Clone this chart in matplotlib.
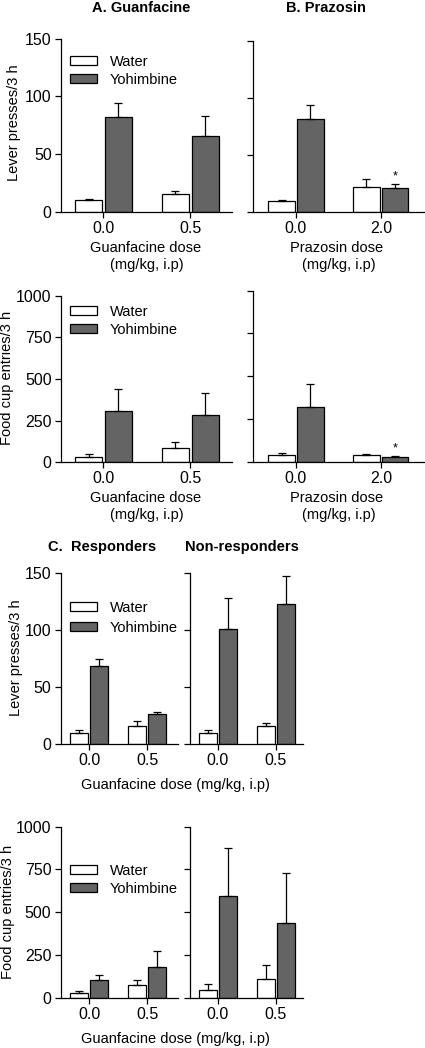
"""Yohimbine-induced reinstatement: guanfacine / prazosin bar panels.

Lever presses and food cup entries (mean + SEM) for water vs yohimbine
at each antagonist dose, plus responder / non-responder split.

Output: out.png
"""

import matplotlib

matplotlib.use("Agg")
import matplotlib.pyplot as plt
from matplotlib.patches import Patch

W, H = 425, 1048

# --- data (mean, SEM) -----------------------------------------------
GUAN_DOSES = ["0.0", "0.5"]
PRAZ_DOSES = ["0.0", "2.0"]

# A. Guanfacine, lever presses
a_lever_water = [10, 16]
a_lever_water_sem = [1, 2]
a_lever_yoh = [82, 66]
a_lever_yoh_sem = [12, 17]

# B. Prazosin, lever presses
b_lever_water = [10, 22]
b_lever_water_sem = [0.5, 7]
b_lever_yoh = [82, 21]
b_lever_yoh_sem = [12, 4]

# A. Guanfacine, food cup entries
a_food_water = [34, 86]
a_food_water_sem = [14, 36]
a_food_yoh = [310, 286]
a_food_yoh_sem = [130, 132]

# B. Prazosin, food cup entries
b_food_water = [37, 37]
b_food_water_sem = [12, 6]
b_food_yoh = [320, 25]
b_food_yoh_sem = [133, 10]

# C. Responders / non-responders, lever presses
c_lever_water = [10, 16]
c_lever_water_sem = [2, 4]
c_lever_yoh = [68, 26]
c_lever_yoh_sem = [6, 2]
nr_lever_water = [10, 16]
nr_lever_water_sem = [2, 2]
nr_lever_yoh = [101, 123]
nr_lever_yoh_sem = [27, 24]

# C. Responders / non-responders, food cup entries
c_food_water = [29, 72]
c_food_water_sem = [8, 31]
c_food_yoh = [105, 181]
c_food_yoh_sem = [26, 94]
nr_food_water = [45, 107]
nr_food_water_sem = [33, 82]
nr_food_yoh = [594, 435]
nr_food_yoh_sem = [281, 292]

LEVER_TICKS = [0, 50, 100, 150]
FOOD_TICKS = [0, 250, 500, 750, 1000]

GREY = "#646464"
BAR_W = 0.31
OFF = 0.17
LW = 0.9
TICK_FS = 11.5
LAB_FS = 10.5

plt.rcParams["font.family"] = ["Liberation Sans", "DejaVu Sans"]
plt.rcParams["font.size"] = LAB_FS


def px_axes(fig, left, top, right, bottom):
    return fig.add_axes([left / W, 1 - bottom / H,
                         (right - left) / W, (bottom - top) / H])


def panel(ax, doses, water, water_sem, yoh, yoh_sem, ticks, xlim,
          ylabels=True, star=False):
    x = range(len(doses))
    xw = [i - OFF for i in x]
    xy = [i + OFF for i in x]
    ax.bar(xw, water, BAR_W, color="white", edgecolor="black", lw=LW, zorder=2)
    ax.bar(xy, yoh, BAR_W, color=GREY, edgecolor="black", lw=LW, zorder=2)
    ax.errorbar(xw, water, yerr=[[0] * len(water), water_sem], fmt="none",
                ecolor="black", elinewidth=LW, capsize=3, capthick=LW, zorder=3)
    ax.errorbar(xy, yoh, yerr=[[0] * len(yoh), yoh_sem], fmt="none",
                ecolor="black", elinewidth=LW, capsize=3, capthick=LW, zorder=3)
    if star:
        ax.annotate("*", xy=(xy[-1], yoh[-1] + yoh_sem[-1]), xytext=(0, 1),
                    textcoords="offset points", ha="center", va="bottom",
                    fontsize=9)
    ax.set_xlim(*xlim)
    ax.set_ylim(ticks[0], ticks[-1])
    ax.set_xticks(list(x))
    ax.set_xticklabels(doses)
    ax.set_yticks(ticks)
    if not ylabels:
        ax.set_yticklabels([])
    for s in ("top", "right"):
        ax.spines[s].set_visible(False)
    for s in ("left", "bottom"):
        ax.spines[s].set_linewidth(LW)
    ax.tick_params(direction="out", length=4, width=LW, pad=2.5,
                   labelsize=TICK_FS)
    ax.spines["left"].set_zorder(4)


def legend(ax, top, spacing):
    handles = [Patch(facecolor="white", edgecolor="black", lw=LW),
               Patch(facecolor=GREY, edgecolor="black", lw=LW)]
    ax.legend(handles, ["Water", "Yohimbine"], loc="upper left",
              bbox_to_anchor=(70 / W, 1 - top / H),
              bbox_transform=ax.figure.transFigure, frameon=False,
              borderpad=0, borderaxespad=0, handlelength=1.85,
              handleheight=0.6, handletextpad=0.9, labelspacing=spacing,
              fontsize=LAB_FS)


def txt(fig, x, y, s, **kw):
    fig.text(x / W, 1 - y / H, s, ha="center", va="center", **kw)


fig = plt.figure(figsize=(W / 100, H / 100), dpi=100)

XL_A = (-0.49, 1.48)
XL_B = (-0.506, 1.52)
XL_C = (-0.49, 1.53)
XL_NR = (-0.48, 1.47)

# row 1: lever presses, guanfacine / prazosin
ax = px_axes(fig, 60.7, 38.7, 232, 212)
panel(ax, GUAN_DOSES, a_lever_water, a_lever_water_sem, a_lever_yoh,
      a_lever_yoh_sem, LEVER_TICKS, XL_A)
legend(ax, 55, 0.25)
ax = px_axes(fig, 253, 41, 425, 212.3)
panel(ax, PRAZ_DOSES, b_lever_water, b_lever_water_sem, b_lever_yoh,
      b_lever_yoh_sem, LEVER_TICKS, XL_B, ylabels=False, star=True)

# row 2: food cup entries, guanfacine / prazosin
ax = px_axes(fig, 60.7, 295.7, 232, 462.3)
panel(ax, GUAN_DOSES, a_food_water, a_food_water_sem, a_food_yoh,
      a_food_yoh_sem, FOOD_TICKS, XL_A)
legend(ax, 305, 0.25)
ax = px_axes(fig, 253, 290.7, 425, 461.7)
panel(ax, PRAZ_DOSES, b_food_water, b_food_water_sem, b_food_yoh,
      b_food_yoh_sem, FOOD_TICKS, XL_B, ylabels=False, star=True)

# row 3: lever presses, responders / non-responders
ax = px_axes(fig, 60.5, 572.7, 178, 744)
panel(ax, GUAN_DOSES, c_lever_water, c_lever_water_sem, c_lever_yoh,
      c_lever_yoh_sem, LEVER_TICKS, XL_C)
legend(ax, 601, 0.38)
ax = px_axes(fig, 190, 572.7, 303, 744)
panel(ax, GUAN_DOSES, nr_lever_water, nr_lever_water_sem, nr_lever_yoh,
      nr_lever_yoh_sem, LEVER_TICKS, XL_NR, ylabels=False)

# row 4: food cup entries, responders / non-responders
ax = px_axes(fig, 60.5, 826.7, 178, 997.7)
panel(ax, GUAN_DOSES, c_food_water, c_food_water_sem, c_food_yoh,
      c_food_yoh_sem, FOOD_TICKS, XL_C)
legend(ax, 864, 0.25)
ax = px_axes(fig, 190, 826.7, 303, 997.7)
panel(ax, GUAN_DOSES, nr_food_water, nr_food_water_sem, nr_food_yoh,
      nr_food_yoh_sem, FOOD_TICKS, XL_NR, ylabels=False)

# titles
txt(fig, 141, 8, "A. Guanfacine", fontweight="bold")
txt(fig, 326, 8, "B. Prazosin", fontweight="bold")
txt(fig, 102, 547, "C.  Responders", fontweight="bold")
txt(fig, 242, 547, "Non-responders", fontweight="bold")

# axis labels
txt(fig, 146, 248, "Guanfacine dose")
txt(fig, 147, 265, "(mg/kg, i.p)")
txt(fig, 337, 248, "Prazosin dose")
txt(fig, 339, 265, "(mg/kg, i.p)")
txt(fig, 146, 498, "Guanfacine dose")
txt(fig, 147, 515, "(mg/kg, i.p)")
txt(fig, 337, 498, "Prazosin dose")
txt(fig, 339, 515, "(mg/kg, i.p)")
txt(fig, 175, 785, "Guanfacine dose (mg/kg, i.p)")
txt(fig, 175, 1039, "Guanfacine dose (mg/kg, i.p)")

txt(fig, 14, 123, "Lever presses/3 h", rotation=90)
txt(fig, 7, 378, "Food cup entries/3 h", rotation=90)
txt(fig, 16, 658, "Lever presses/3 h", rotation=90)
txt(fig, 8, 912, "Food cup entries/3 h", rotation=90)

fig.savefig("out.png", dpi=100)
